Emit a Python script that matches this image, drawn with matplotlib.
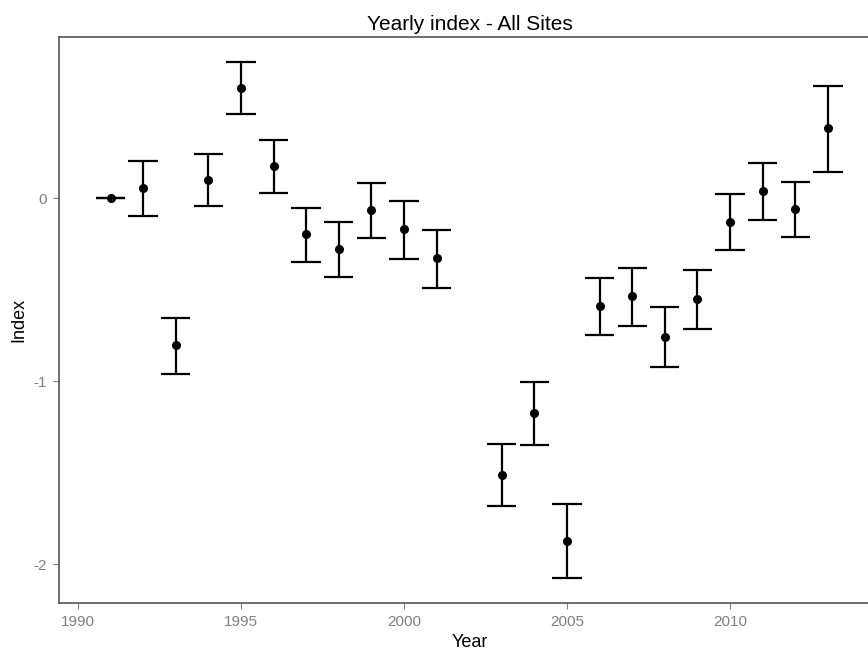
import numpy as np
import matplotlib.pyplot as plt

plt.rcParams['font.family'] = ['Liberation Sans', 'DejaVu Sans']
plt.rcParams['axes.unicode_minus'] = False

years = [1991, 1992, 1993, 1994, 1995, 1996, 1997, 1998, 1999, 2000, 2001,
         2003, 2004, 2005, 2006, 2007, 2008, 2009, 2010, 2011, 2012, 2013]
index = [0.0, 0.055, -0.803, 0.098, 0.601, 0.175, -0.197, -0.279, -0.066, -0.169, -0.328,
         -1.514, -1.175, -1.874, -0.590, -0.536, -0.760, -0.552, -0.131, 0.038, -0.060, 0.383]
upper = [0.0, 0.202, -0.656, 0.240, 0.743, 0.317, -0.055, -0.131, 0.082, -0.016, -0.175,
         -1.344, -1.005, -1.672, -0.437, -0.383, -0.596, -0.393, 0.022, 0.191, 0.087, 0.612]
lower = [0.0, -0.098, -0.962, -0.044, 0.459, 0.027, -0.350, -0.432, -0.219, -0.333, -0.492,
         -1.683, -1.350, -2.077, -0.749, -0.699, -0.923, -0.716, -0.284, -0.120, -0.213, 0.142]

x_ticks = [1990, 1995, 2000, 2005, 2010]
y_ticks = [-2, -1, 0]

years = np.array(years)
index = np.array(index)
upper = np.array(upper)
lower = np.array(lower)

fig = plt.figure(figsize=(8.68, 6.49), dpi=100)
ax = fig.add_axes([59 / 868, 1 - 603 / 649, (880 - 59) / 868, (603 - 37) / 649])

# error bars: vertical segment plus caps 0.9 years wide
half = 0.45
ax.vlines(years, lower, upper, color='black', lw=1.6)
ax.hlines(upper, years - half, years + half, color='black', lw=1.6)
ax.hlines(lower, years - half, years + half, color='black', lw=1.6)
ax.plot(years, index, 'o', color='black', ms=5.5)

ax.set_xlim(1989.42, 2014.6)
ax.set_ylim(-2.213, 0.88)
ax.set_xticks(x_ticks)
ax.set_yticks(y_ticks)

for side in ax.spines.values():
    side.set_color('#555555')
    side.set_linewidth(1.2)

ax.tick_params(colors='#7f7f7f', labelsize=11, length=4, width=0.8, pad=5)
ax.set_title('Yearly index - All Sites', fontsize=15, pad=5)
ax.set_xlabel('Year', fontsize=13, labelpad=3)
ax.set_ylabel('Index', fontsize=13, labelpad=4)

fig.savefig('out.png', dpi=100)
